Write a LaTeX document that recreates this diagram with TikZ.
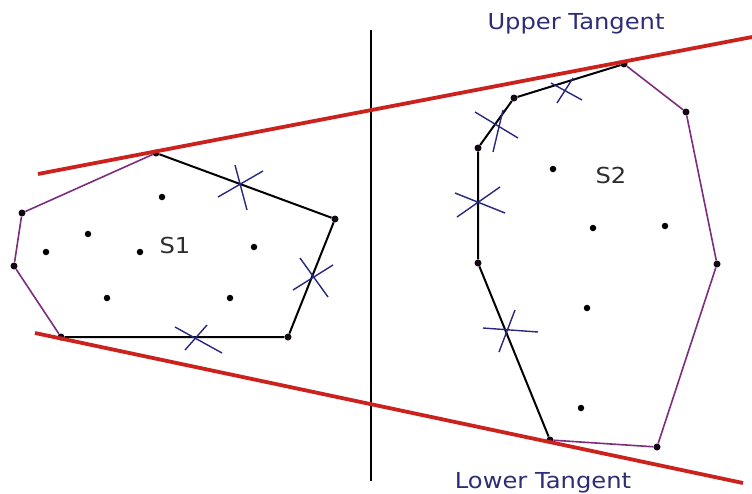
\documentclass[tikz,border=0pt]{standalone}
\usepackage{fontspec}
\newfontfamily\lblfont[FakeStretch=1.1]{DejaVu Sans}
\definecolor{tanred}{RGB}{204,34,30}
\definecolor{hullpurple}{RGB}{125,45,125}
\definecolor{markblue}{RGB}{40,40,130}
\definecolor{tanblue}{RGB}{45,45,120}
\definecolor{sgray}{RGB}{45,45,45}
\tikzset{
  vtx/.style={circle,fill=black!85!hullpurple,inner sep=0pt,minimum size=7pt},
  pt/.style={circle,fill=black,inner sep=0pt,minimum size=6.5pt},
  hullb/.style={draw=black,line width=2pt},
  hullp/.style={draw=hullpurple,line width=1.6pt},
  tanline/.style={draw=tanred,line width=3.8pt},
  xmark/.style={draw=markblue,line width=1.4pt},
  divider/.style={draw=black,line width=1.8pt},
  tanlabel/.style={font=\lblfont\fontsize{22}{26}\selectfont,text=tanblue,anchor=base,inner sep=0pt},
  setlabel/.style={font=\lblfont\fontsize{22}{26}\selectfont,text=sgray,anchor=base,inner sep=0pt}
}
\begin{document}
\begin{tikzpicture}[x=1pt,y=-1pt]
\useasboundingbox (0,0) rectangle (752,493);
\fill[white] (0,0) rectangle (752,493);

% divider
\coordinate (d1) at (371,30);
\coordinate (d2) at (371,481);
\draw[divider] (d1) -- (d2);

% S1 hull vertices
\node[vtx] (a1) at (156,153) {};
\node[vtx] (a2) at (335,219) {};
\node[vtx] (a3) at (288,337) {};
\node[vtx] (a4) at (61,337) {};
\node[vtx] (a5) at (14,266) {};
\node[vtx] (a6) at (22,213) {};
\draw[hullb] (a1) -- (a2) -- (a3) -- (a4);
\draw[hullp] (a1) -- (a6) -- (a5) -- (a4);

% S1 interior points
\node[pt] (p1) at (162,197) {};
\node[pt] (p2) at (88,234) {};
\node[pt] (p3) at (46,252) {};
\node[pt] (p4) at (140,252) {};
\node[pt] (p5) at (254,247) {};
\node[pt] (p6) at (107,298) {};
\node[pt] (p7) at (230,298) {};
\node[setlabel] (s1) at (175,253) {S1};

% S2 hull vertices
\node[vtx] (b1) at (624,64) {};
\node[vtx] (b2) at (686,112) {};
\node[vtx] (b3) at (717,264) {};
\node[vtx] (b4) at (657,447) {};
\node[vtx] (b5) at (550,440) {};
\node[vtx] (b6) at (478,263) {};
\node[vtx] (b7) at (478,148) {};
\node[vtx] (b8) at (514,98) {};
\draw[hullb] (b1) -- (b8) -- (b7) -- (b6) -- (b5);
\draw[hullp] (b1) -- (b2) -- (b3) -- (b4) -- (b5);

% S2 interior points
\node[pt] (q1) at (553,169) {};
\node[pt] (q2) at (593,228) {};
\node[pt] (q3) at (665,226) {};
\node[pt] (q4) at (587,308) {};
\node[pt] (q5) at (581,408) {};
\node[setlabel] (s2) at (611,183) {S2};

% tangents
\coordinate (ut1) at (38,174);
\coordinate (ut2) at (752,37);
\coordinate (lt1) at (35,333);
\coordinate (lt2) at (743,483);
\draw[tanline] (ut1) -- (ut2);
\draw[tanline] (lt1) -- (lt2);

% cross marks S1
\draw[xmark] (218,197) -- (263,171) (235,165) -- (247,210);
\draw[xmark] (293,290) -- (333,265) (300,258) -- (328,297);
\draw[xmark] (175,327) -- (222,353) (207,325) -- (185,350);

% cross marks S2
\draw[xmark] (551,83) -- (582,100) (573,78) -- (557,103);
\draw[xmark] (475,112) -- (518,138) (503,110) -- (493,152);
\draw[xmark] (455,193) -- (505,213) (500,187) -- (457,217);
\draw[xmark] (483,328) -- (538,332) (515,310) -- (499,352);

% labels
\node[tanlabel] (ul) at (576,29) {Upper Tangent};
\node[tanlabel] (ll) at (543,488) {Lower Tangent};
\end{tikzpicture}
\end{document}
